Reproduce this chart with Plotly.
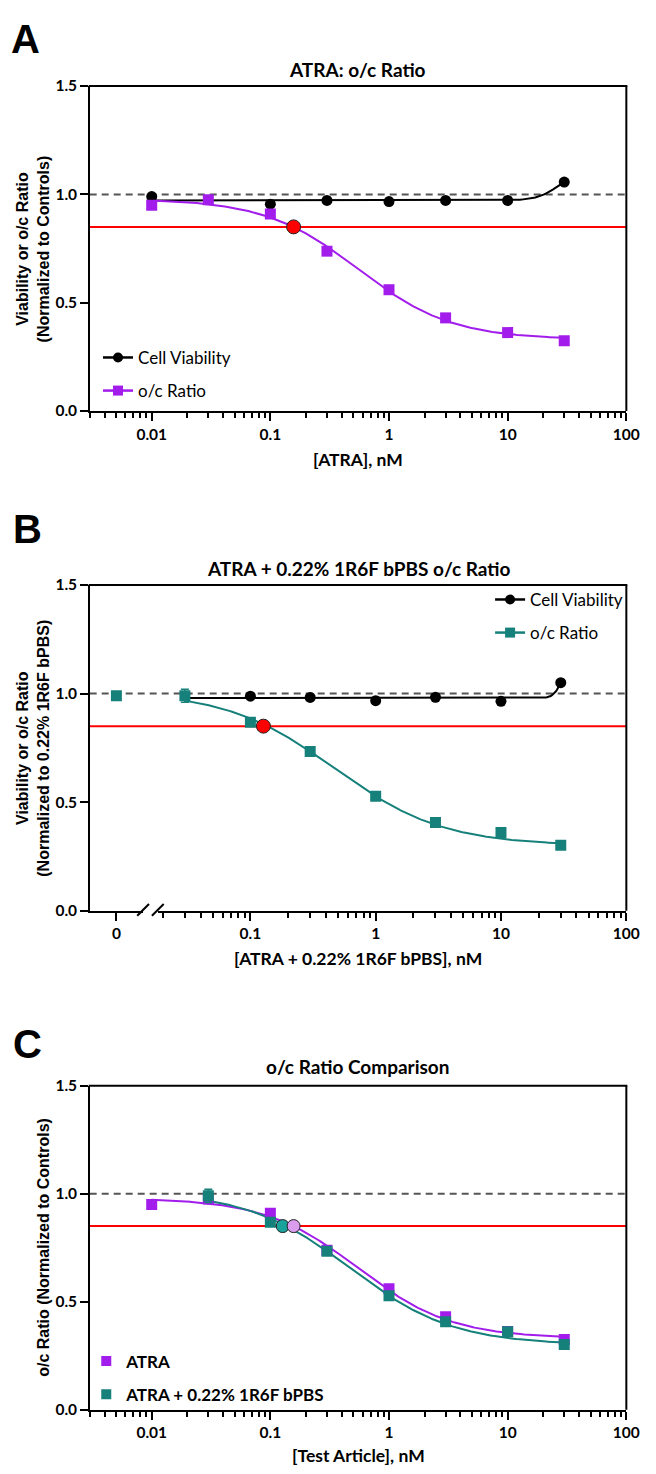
import numpy as np
import plotly.graph_objects as go

W, H = 656, 1474

# ---------------- data ----------------
# Panel A: ATRA
a_via_x = [0.01, 0.1, 0.3, 1, 3, 10, 30]
a_via_y = [0.99, 0.955, 0.972, 0.967, 0.972, 0.972, 1.057]
a_oc_x = [0.01, 0.03, 0.1, 0.3, 1, 3, 10, 30]
a_oc_y = [0.95, 0.975, 0.909, 0.738, 0.56, 0.43, 0.362, 0.325]

# Panel B: ATRA + 0.22% 1R6F bPBS
b_via_x = [0.1, 0.3, 1, 3, 10, 30]
b_via_y = [0.988, 0.982, 0.967, 0.983, 0.964, 1.05]
b_oc_x = [0.03, 0.1, 0.3, 1, 3, 10, 30]
b_oc_y = [0.99, 0.868, 0.733, 0.527, 0.407, 0.361, 0.302]
b_oc_err = [0.03, 0, 0, 0, 0, 0, 0]
b_zero_x = [0]
b_zero_y = [0.99]

# IC15 markers
ic15_level = 0.85
a_ic15 = 0.157
b_ic15 = 0.127

# 4-parameter logistic fit parameters: (low-dose plateau, high-dose plateau, EC50, Hill slope)
fit_a_via = (0.972, 1.10, 26.2, 5.0)
fit_a_oc = (0.98, 0.33, 0.55, 1.1)
fit_b_via = (0.979, 1.12, 30.0, 14.0)
fit_b_oc = (1.01, 0.30, 0.47, 1.0)

x_ticks = [0.01, 0.1, 1, 10, 100]
x_ticktext = ["0.01", "0.1", "1", "10", "100"]
y_ticks = [0, 0.5, 1.0, 1.5]
y_ticktext = ["0.0", "0.5", "1.0", "1.5"]

PURPLE = "#A21CEB"
TEAL = "#16807A"
TEAL_LIGHT = "#1AA39A"
PINK = "#DA9CEC"
RED = "#FF0000"

SANS = "Lato"
ARIAL = "Liberation Sans"


def px(x):
    return x / W


def py(y):
    return 1 - y / H


def fourpl(x, p):
    lo, hi, ec50, h = p
    x = np.asarray(x, dtype=float)
    return hi + (lo - hi) / (1 + (x / ec50) ** h)


def fit_x(x0, x1):
    return np.logspace(np.log10(x0), np.log10(x1), 300)


minor_vals = [k * 10.0 ** e for e in range(-3, 2) for k in range(2, 10)]

fig = go.Figure()


def add_line(x, y, color, xa, ya):
    fig.add_trace(go.Scatter(x=x, y=y, mode="lines", line=dict(color=color, width=2),
                             xaxis=xa, yaxis=ya, showlegend=False, hoverinfo="skip"))


def add_pts(x, y, color, symbol, xa, ya, size=11, err=None, outline=None):
    kw = {}
    if err is not None:
        kw["error_y"] = dict(type="data", array=err, color=color, thickness=1.6, width=4)
    fig.add_trace(go.Scatter(x=x, y=y, mode="markers",
                             marker=dict(color=color, symbol=symbol, size=size,
                                         line=dict(color=outline or color, width=1 if outline else 0)),
                             xaxis=xa, yaxis=ya, showlegend=False, **kw))


# ---------- Panel A ----------
xv = fit_x(min(a_via_x), max(a_via_x))
add_line(xv, fourpl(xv, fit_a_via), "black", "x", "y")
xo = fit_x(min(a_oc_x), max(a_oc_x))
add_line(xo, fourpl(xo, fit_a_oc), PURPLE, "x", "y")
add_pts(a_via_x, a_via_y, "black", "circle", "x", "y")
add_pts(a_oc_x, a_oc_y, PURPLE, "square", "x", "y")
add_pts([a_ic15], [ic15_level], RED, "circle", "x", "y", size=14, outline="#222222")

# ---------- Panel B ----------
xv = fit_x(min(b_oc_x), max(b_via_x))
add_line(xv, fourpl(xv, fit_b_via), "black", "x3", "y2")
xo = fit_x(min(b_oc_x), max(b_oc_x))
add_line(xo, fourpl(xo, fit_b_oc), TEAL, "x3", "y2")
add_pts(b_via_x, b_via_y, "black", "circle", "x3", "y2")
add_pts(b_oc_x, b_oc_y, TEAL, "square", "x3", "y2", err=b_oc_err)
add_pts(b_zero_x, b_zero_y, TEAL, "square", "x2", "y2")
add_pts([b_ic15], [ic15_level], RED, "circle", "x3", "y2", size=14, outline="#222222")

# ---------- Panel C ----------
xo = fit_x(min(a_oc_x), max(a_oc_x))
add_line(xo, fourpl(xo, fit_a_oc), PURPLE, "x4", "y3")
xo = fit_x(min(b_oc_x), max(b_oc_x))
add_line(xo, fourpl(xo, fit_b_oc), TEAL, "x4", "y3")
add_pts(a_oc_x, a_oc_y, PURPLE, "square", "x4", "y3")
add_pts(b_oc_x, b_oc_y, TEAL, "square", "x4", "y3", err=b_oc_err)
add_pts([b_ic15], [ic15_level], TEAL_LIGHT, "circle", "x4", "y3", size=13, outline="#222222")
add_pts([a_ic15], [ic15_level], PINK, "circle", "x4", "y3", size=13, outline="#222222")

# ---------- legend entries ----------
def legend_entry(name, color, symbol, legend, mode, group):
    fig.add_trace(go.Scatter(x=[None], y=[None], mode=mode, name=name,
                             line=dict(color=color, width=2.5),
                             marker=dict(color=color, symbol=symbol, size=10),
                             legend=legend, legendgroup=group, showlegend=True,
                             xaxis="x", yaxis="y"))


legend_entry("Cell Viability", "black", "circle", "legend", "lines+markers", "a1")
legend_entry("o/c Ratio", PURPLE, "square", "legend", "lines+markers", "a2")
legend_entry("Cell Viability", "black", "circle", "legend2", "lines+markers", "b1")
legend_entry("o/c Ratio", TEAL, "square", "legend2", "lines+markers", "b2")
legend_entry("ATRA", PURPLE, "square", "legend3", "markers", "c1")
legend_entry("ATRA + 0.22% 1R6F bPBS", TEAL, "square", "legend3", "markers", "c2")

# ---------- axes ----------
tickfont = dict(family=SANS, size=15.5, color="black", weight="bold")


def xlog(domain, rng, anchor):
    return dict(type="log", domain=domain, range=rng, anchor=anchor,
                showline=True, linewidth=2, linecolor="black",
                ticks="outside", ticklen=8, tickwidth=2.2, tickcolor="black",
                tickmode="array", tickvals=x_ticks, ticktext=x_ticktext, tickfont=tickfont,
                minor=dict(tickmode="array", tickvals=minor_vals, ticks="outside", ticklen=5,
                           tickwidth=1.8, tickcolor="black", showgrid=False),
                showgrid=False, zeroline=False)


def ylin(domain, anchor):
    return dict(domain=domain, range=[0, 1.5], anchor=anchor,
                showline=True, linewidth=2, linecolor="black",
                ticks="outside", ticklen=7.5, tickwidth=2.2, tickcolor="black",
                tickmode="array", tickvals=y_ticks, ticktext=y_ticktext, tickfont=tickfont,
                showgrid=False, zeroline=False)


L, R = 91.5, 639
A_T, A_B = 77, 406
B_T, B_B = 582, 912
C_T, C_B = 1089, 1417
log_rng = [np.log10(0.003), 2.0005]
b_log_rng = [-1.739, 2.0005]
B_SPLIT = 161

layout = dict(
    width=W, height=H, margin=dict(l=0, r=0, t=0, b=0),
    paper_bgcolor="white", plot_bgcolor="white", showlegend=True,
    xaxis=xlog([px(L), px(R)], log_rng, "y"),
    yaxis=ylin([py(A_B), py(A_T)], "x"),
    xaxis2=dict(domain=[px(L), px(146)], range=[-1, 1], anchor="y2",
                showline=True, linewidth=2, linecolor="black",
                ticks="outside", ticklen=8, tickwidth=2.2, tickcolor="black",
                tickmode="array", tickvals=[0], ticktext=["0"], tickfont=tickfont,
                showgrid=False, zeroline=False),
    xaxis3=xlog([px(B_SPLIT), px(R)], b_log_rng, "y2"),
    yaxis2=ylin([py(B_B), py(B_T)], "x2"),
    xaxis4=xlog([px(L), px(R)], log_rng, "y3"),
    yaxis3=ylin([py(C_B), py(C_T)], "x4"),
    legend=dict(x=px(100), y=py(334), xanchor="left", yanchor="top",
                bgcolor="rgba(0,0,0,0)", font=dict(family=SANS, size=17, color="black"),
                traceorder="grouped", tracegroupgap=8, itemwidth=30),
    legend2=dict(x=px(500), y=py(579), xanchor="left", yanchor="top",
                 bgcolor="rgba(0,0,0,0)", font=dict(family=SANS, size=17, color="black"),
                 traceorder="grouped", tracegroupgap=8, itemwidth=30),
    legend3=dict(x=px(88), y=py(1350), xanchor="left", yanchor="top",
                 bgcolor="rgba(0,0,0,0)", font=dict(family=SANS, size=17, color="black", weight="bold"),
                 traceorder="grouped", tracegroupgap=8, itemwidth=30),
)
fig.update_layout(**layout)

shapes = []
for top, bot, yref in [(A_T, A_B, "y"), (B_T, B_B, "y2"), (C_T, C_B, "y3")]:
    # reference lines
    shapes.append(dict(type="line", xref="paper", yref=yref, x0=px(L), x1=px(R), y0=1.0, y1=1.0,
                       line=dict(color="#555555", width=2, dash="7px,5px"), layer="below"))
    shapes.append(dict(type="line", xref="paper", yref=yref, x0=px(L), x1=px(R), y0=ic15_level,
                       y1=ic15_level, line=dict(color=RED, width=2), layer="below"))
    # frame (top and right)
    shapes.append(dict(type="line", xref="paper", yref="paper", x0=px(L - 1), x1=px(R + 1),
                       y0=py(top), y1=py(top), line=dict(color="black", width=2)))
    shapes.append(dict(type="line", xref="paper", yref="paper", x0=px(R), x1=px(R),
                       y0=py(top), y1=py(bot), line=dict(color="black", width=2)))
# axis break marks
for x0 in (140, 155):
    shapes.append(dict(type="line", xref="paper", yref="paper", x0=px(x0), x1=px(x0 + 12),
                       y0=py(917), y1=py(905), line=dict(color="black", width=2)))
fig.update_layout(shapes=shapes)

ann = []


def text(s, x, y, font, angle=0):
    ann.append(dict(text=s, x=px(x), y=py(y), xref="paper", yref="paper", showarrow=False,
                    xanchor="center", yanchor="middle", textangle=angle, font=font))


letter_font = dict(family=ARIAL, size=40, color="black", weight="bold")
title_font = dict(family=SANS, size=19, color="black", weight="bold")
axis_font = dict(family=SANS, size=17.5, color="black", weight="bold")
ytitle_font = dict(family=ARIAL, size=16, color="black", weight="bold")

text("A", 26, 29, letter_font)
text("B", 28, 525, letter_font)
text("C", 28, 1047, letter_font)
text("ATRA: o/c Ratio", 365, 60, title_font)
text("ATRA + 0.22% 1R6F bPBS o/c Ratio", 366, 565, title_font)
text("o/c Ratio Comparison", 365, 1070, title_font)
text("[ATRA], nM", 365, 455, axis_font)
text("[ATRA + 0.22% 1R6F bPBS], nM", 365, 960, axis_font)
text("[Test Article], nM", 366, 1463, axis_font)
text("Viability or o/c Ratio<br>(Normalized to Controls)", 33.5, (A_T + A_B) / 2, ytitle_font, -90)
text("Viability or o/c Ratio<br>(Normalized to 0.22% 1R6F bPBS)", 33.5, (B_T + B_B) / 2, ytitle_font, -90)
text("o/c Ratio (Normalized to Controls)", 45, (C_T + C_B) / 2, ytitle_font, -90)
fig.update_layout(annotations=ann)

hide_js = (
    "document.body.style.margin='0px';document.body.style.padding='0px';"
    "var s=document.createElement('style');"
    "s.textContent='.modebar-container{display:none !important;}';"
    "document.head.appendChild(s);"
)
fig.write_html("out.html", post_script=hide_js)
